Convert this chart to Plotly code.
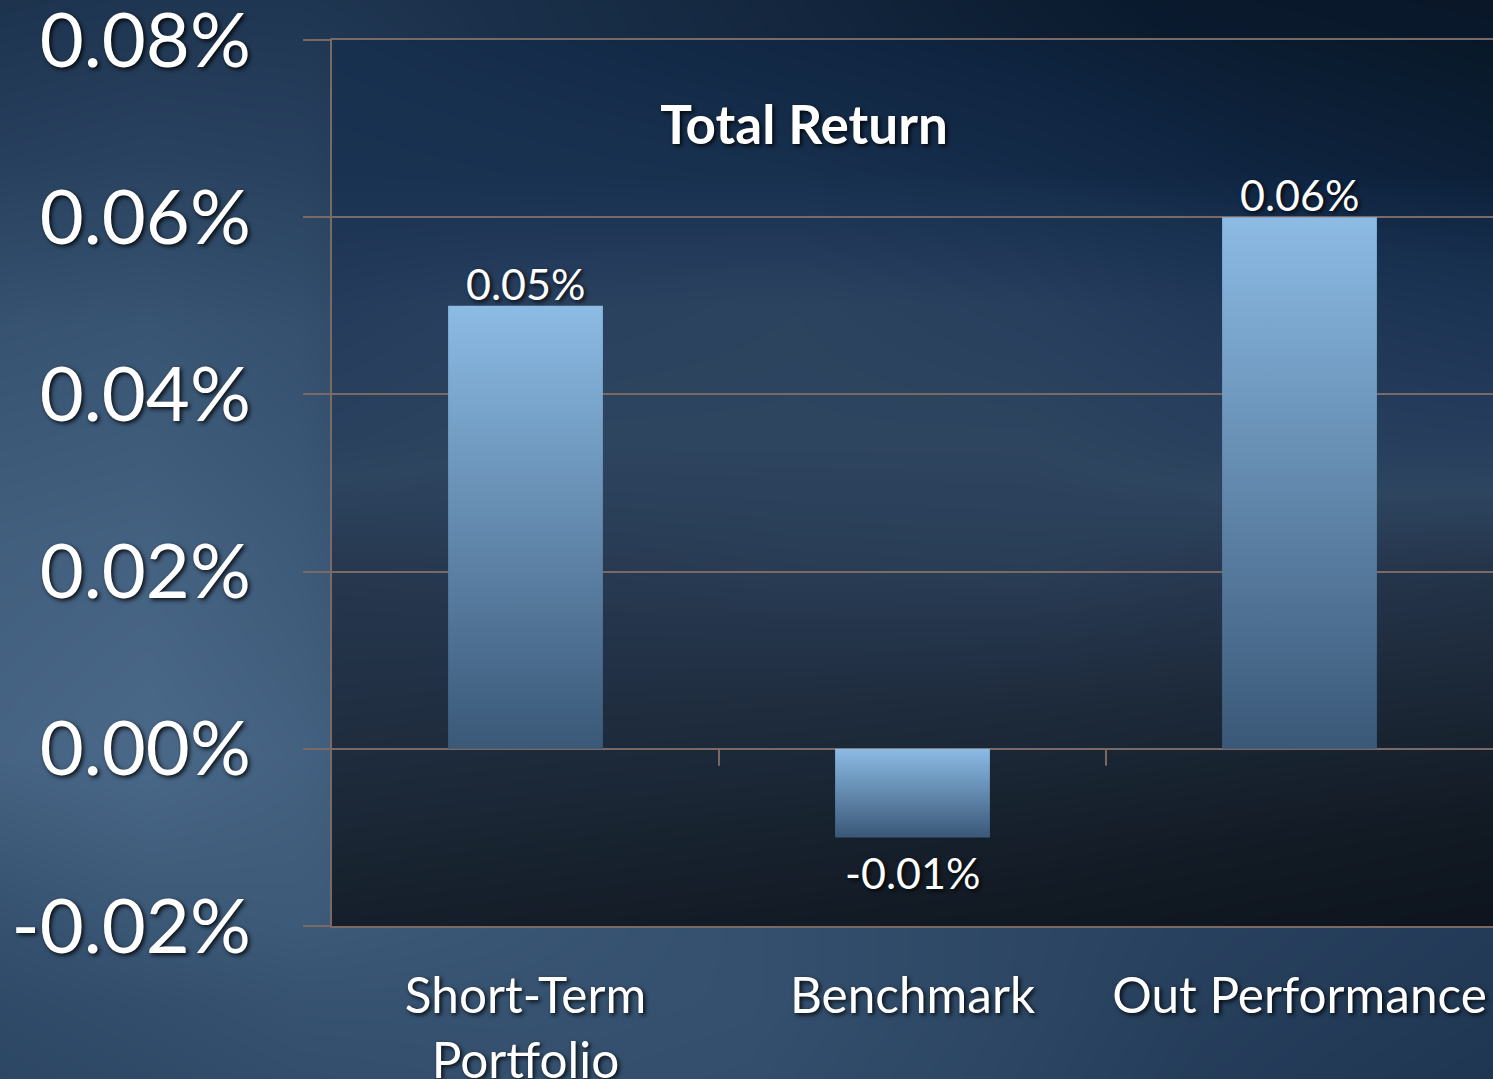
import plotly.graph_objects as go

# ---------------- data ----------------
categories = ["Short-Term<br>Portfolio", "Benchmark", "Out Performance"]
values = [0.0005, -0.0001, 0.0006]
value_labels = ["0.05%", "-0.01%", "0.06%"]
y_tickvals = [-0.0002, 0.0, 0.0002, 0.0004, 0.0006, 0.0008]
y_ticktext = ["-0.02%", "0.00%", "0.02%", "0.04%", "0.06%", "0.08%"]
chart_title = "Total Return"

# ---------------- style ----------------
W, H = 1493, 1079
GRID = "#7b6963"
FONT = "Lato"
SHADOW = "2px 2px 4px rgba(0,0,0,0.85)"
BAR_WIDTH = 0.4
BAR_SCALE = [[0, "#3a5878"], [1, "#8cbbe4"]]

PL = 332 / W
PB = 153 / H
PT = 1 - 40 / H

# background brightness maps (decorative)
bg_x = [0, 0.1, 0.2, 0.35, 0.5, 0.65, 0.8, 1.0]
bg_y = [0, 0.07, 0.14, 0.30, 0.50, 0.70, 0.85, 1.0]
bg_z = [
    [0.62, 0.66, 0.70, 0.72, 0.70, 0.62, 0.52, 0.45],
    [0.66, 0.70, 0.74, 0.74, 0.72, 0.64, 0.54, 0.48],
    [0.72, 0.78, 0.80, 0.76, 0.72, 0.64, 0.56, 0.50],
    [0.88, 0.92, 0.86, 0.70, 0.60, 0.50, 0.45, 0.40],
    [0.84, 0.86, 0.80, 0.60, 0.55, 0.50, 0.45, 0.40],
    [0.74, 0.76, 0.72, 0.50, 0.45, 0.40, 0.35, 0.30],
    [0.55, 0.58, 0.56, 0.40, 0.35, 0.30, 0.25, 0.22],
    [0.42, 0.45, 0.45, 0.38, 0.32, 0.25, 0.18, 0.15],
]
bg_scale = [[0, "#060e18"], [0.2, "#0a1a2e"], [0.45, "#1f3652"],
            [0.72, "#34506e"], [0.92, "#4a6888"], [1, "#52708f"]]

pa_x = [0, 0.2, 0.4, 0.6, 0.8, 1.0]
pa_y = [0, 0.10, 0.25, 0.40, 0.55, 0.70, 0.85, 1.0]
pa_z = [
    [0.14, 0.12, 0.10, 0.08, 0.05, 0.03],
    [0.20, 0.18, 0.16, 0.14, 0.11, 0.08],
    [0.30, 0.28, 0.27, 0.25, 0.22, 0.20],
    [0.38, 0.40, 0.42, 0.43, 0.38, 0.34],
    [0.55, 0.50, 0.50, 0.50, 0.58, 0.60],
    [0.62, 0.55, 0.52, 0.58, 0.68, 0.74],
    [0.76, 0.78, 0.80, 0.84, 0.90, 0.94],
    [0.80, 0.84, 0.88, 0.92, 0.97, 1.00],
]
pa_scale = [[0, "#0b121b"], [0.1, "#121a24"], [0.2, "#1a2634"], [0.35, "#24344a"],
            [0.5, "#2e4560"], [0.65, "#22395a"], [0.8, "#17304e"], [0.9, "#0f2440"],
            [1, "#081828"]]

fig = go.Figure()

fig.add_trace(go.Heatmap(x=bg_x, y=bg_y, z=bg_z, colorscale=bg_scale, zmin=0, zmax=1,
                         zsmooth="best", showscale=False, hoverinfo="skip",
                         xaxis="x", yaxis="y"))
fig.add_trace(go.Heatmap(x=pa_x, y=pa_y, z=pa_z, colorscale=pa_scale, zmin=0, zmax=1,
                         zsmooth="best", showscale=False, hoverinfo="skip",
                         xaxis="x2", yaxis="y2"))

positions = list(range(len(categories)))

# bar trace (transparent; visible body drawn with gradient fill below)
fig.add_trace(go.Bar(
    x=positions, y=values, width=BAR_WIDTH,
    marker=dict(color="rgba(0,0,0,0)", line=dict(width=0)),
    hoverinfo="skip", showlegend=False, xaxis="x3", yaxis="y3"))

# gradient-filled bar bodies
for p, v in zip(positions, values):
    half = BAR_WIDTH / 2
    fig.add_trace(go.Scatter(
        x=[p - half, p + half, p + half, p - half, p - half],
        y=[0, 0, v, v, 0],
        mode="lines", fill="toself", line=dict(width=0),
        fillgradient=dict(type="vertical", colorscale=BAR_SCALE),
        hoverinfo="skip", showlegend=False, xaxis="x3", yaxis="y3"))

# value labels
annotations = []
for p, v, t in zip(positions, values, value_labels):
    annotations.append(dict(
        x=p, y=v, xref="x3", yref="y3", text=t, showarrow=False,
        yanchor="bottom" if v >= 0 else "top",
        yshift=-5 if v >= 0 else -8,
        font=dict(family=FONT, size=43, color="white", shadow=SHADOW)))

shapes = []
for i in range(len(categories) - 1):
    shapes.append(dict(type="line", xref="x3", yref="y3", x0=i + 0.5, x1=i + 0.5,
                       ysizemode="pixel", yanchor=0, y0=0, y1=-17,
                       line=dict(color=GRID, width=2), layer="above"))

hidden = dict(visible=False, showgrid=False, zeroline=False, fixedrange=True, automargin=False)

fig.update_layout(
    width=W, height=H,
    autosize=False,
    margin=dict(l=0, r=0, t=0, b=0, pad=0, autoexpand=False),
    paper_bgcolor="#2c4868",
    plot_bgcolor="rgba(0,0,0,0)",
    showlegend=False,
    shapes=shapes,
    annotations=annotations,
    title=dict(text=chart_title, x=804 / W, y=1 - 125 / H, xanchor="center", yanchor="middle",
               automargin=False,
               font=dict(family=FONT, size=53, color="white", weight="bold", shadow=SHADOW)),
    xaxis=dict(domain=[0, 1], range=[0, 1], anchor="y", **hidden),
    yaxis=dict(domain=[0, 1], range=[0, 1], anchor="x", **hidden),
    xaxis2=dict(domain=[PL, 1], range=[0, 1], anchor="y2", **hidden),
    yaxis2=dict(domain=[PB, PT], range=[0, 1], anchor="x2", **hidden),
    xaxis3=dict(domain=[PL, 1], range=[-0.5, len(categories) - 0.5], anchor="y3",
                tickmode="array", tickvals=positions, ticktext=categories,
                showgrid=False, zeroline=False, automargin=False,
                showline=True, linecolor=GRID, linewidth=2, mirror=True,
                ticks="", ticklabelstandoff=26, ticklabeloverflow="allow",
                tickfont=dict(family=FONT, size=49.5, color="white", shadow=SHADOW),
                fixedrange=True),
    yaxis3=dict(domain=[PB, PT], range=[y_tickvals[0], y_tickvals[-1]], anchor="x3",
                tickmode="array", tickvals=y_tickvals, ticktext=y_ticktext,
                showgrid=True, gridcolor=GRID, gridwidth=2, automargin=False,
                zeroline=True, zerolinecolor=GRID, zerolinewidth=2,
                showline=True, linecolor=GRID, linewidth=2,
                ticks="outside", ticklen=27, tickcolor=GRID, tickwidth=2,
                ticklabelstandoff=37, ticklabeloverflow="allow",
                tickfont=dict(family=FONT, size=76, color="white", shadow=SHADOW),
                fixedrange=True),
)

fig.write_html("out.html",
               config={"displayModeBar": False, "responsive": False},
               post_script="document.body.style.margin='0';document.body.style.overflow='hidden';")
